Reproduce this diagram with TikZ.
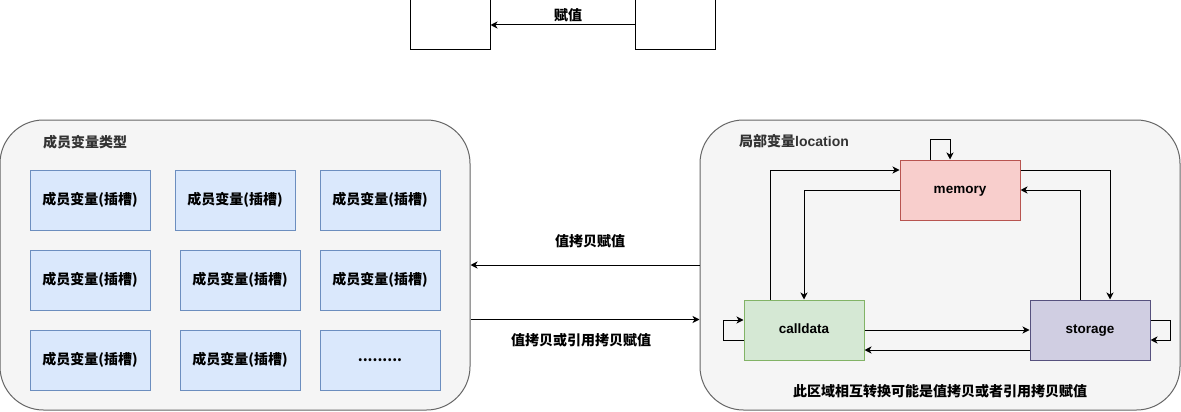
\documentclass[tikz,border=0pt]{standalone}
\usepackage{fontspec}
\setmainfont{Liberation Sans}
\newfontfamily\cjk{Noto Sans CJK SC}
\usetikzlibrary{arrows.meta}
\definecolor{contfill}{HTML}{F5F5F5}
\definecolor{contline}{HTML}{666666}
\definecolor{titlecol}{HTML}{333333}
\definecolor{bluefill}{HTML}{DAE8FC}
\definecolor{blueline}{HTML}{6C8EBF}
\definecolor{redfill}{HTML}{F8CECC}
\definecolor{redline}{HTML}{B85450}
\definecolor{greenfill}{HTML}{D5E8D4}
\definecolor{greenline}{HTML}{82B366}
\definecolor{purplefill}{HTML}{D0CEE2}
\definecolor{purpleline}{HTML}{56517E}
\tikzset{
  container/.style={draw=contline, fill=contfill, rounded corners=43.5pt, line width=1pt, inner sep=0pt},
  slot/.style={draw=blueline, fill=bluefill, line width=1pt, minimum width=120pt, minimum height=60pt, inner sep=0pt, font=\cjk\bfseries\fontsize{14}{16}\selectfont},
  plainbox/.style={draw=black, fill=white, line width=1pt, minimum width=80pt, minimum height=50pt, inner sep=0pt},
  locbox/.style={line width=1pt, minimum width=120pt, minimum height=60pt, inner sep=0pt, text height=10pt, text depth=3pt, font=\bfseries\fontsize{13.5}{16}\selectfont},
  lbl/.style={inner sep=0pt, font=\cjk\bfseries\fontsize{14}{16}\selectfont},
  title/.style={inner sep=0pt, anchor=west, text=titlecol, font=\bfseries\fontsize{14}{16}\selectfont},
  arr/.style={line width=1pt, -{Stealth[length=7pt,width=7pt,inset=2pt]}}
}
\begin{document}
\begin{tikzpicture}[x=1pt,y=-1pt]
\useasboundingbox (0,0) rectangle (1181,412);
% top
\node[plainbox] (ta) at (450,25) {};
\node[plainbox] (tb) at (675,25) {};
\draw[arr] (tb) -- (ta);
\node[lbl] (tl) at (568,15) {赋值};
% left container
\node[container, minimum width=470pt, minimum height=290pt] (memberbox) at (235,265) {};
\node[title] (mt) at (43,142) {\cjk 成员变量类型};
\node[slot] (s11) at (90,200) {成员变量(插槽)};
\node[slot] (s12) at (235,200) {成员变量(插槽)};
\node[slot] (s13) at (380,200) {成员变量(插槽)};
\node[slot] (s21) at (90,280) {成员变量(插槽)};
\node[slot] (s22) at (240,280) {成员变量(插槽)};
\node[slot] (s23) at (380,280) {成员变量(插槽)};
\node[slot] (s31) at (90,360) {成员变量(插槽)};
\node[slot] (s32) at (240,360) {成员变量(插槽)};
\node[slot] (s33) at (380,360) {.........};
% right container
\node[container, minimum width=480pt, minimum height=290pt] (localbox) at (940,265) {};
\node[title] (lt) at (739,141) {{\cjk 局部变量}location};
\node[locbox, draw=redline, fill=redfill] (memory) at (960,190) {memory};
\node[locbox, draw=greenline, fill=greenfill] (calldata) at (804,330) {calldata};
\node[locbox, draw=purpleline, fill=purplefill] (storage) at (1090,330) {storage};
\node[lbl] (bt) at (940,391) {此区域相互转换可能是值拷贝或者引用拷贝赋值};
% location edges
\draw[arr] (memory.north -| 930,0) -- ++(0,-20) -| (memory.north -| 950,0);
\draw[arr] (calldata.north -| 770,0) |- (memory.west |- 0,170);
\draw[arr] (memory.west) -| (calldata.north);
\draw[arr] (memory.east |- 0,170) -| (storage.north -| 1110,0);
\draw[arr] (storage.north -| 1080,0) |- (memory.east);
\draw[arr] (calldata.east) -- (storage.west);
\draw[arr] (storage.west |- 0,350) -- (calldata.east |- 0,350);
\draw[arr] (calldata.west |- 0,340) -- ++(-20,0) |- (calldata.west |- 0,320);
\draw[arr] (storage.east |- 0,320) -- ++(20,0) |- (storage.east |- 0,340);
% middle
\draw[arr] (localbox.west |- 0,265) -- (memberbox.east |- 0,265);
\node[lbl] (m1) at (590,241) {值拷贝赋值};
\draw[arr] (memberbox.east |- 0,319.5) -- (localbox.west |- 0,319.5);
\node[lbl] (m2) at (581,340) {值拷贝或引用拷贝赋值};
\end{tikzpicture}
\end{document}
